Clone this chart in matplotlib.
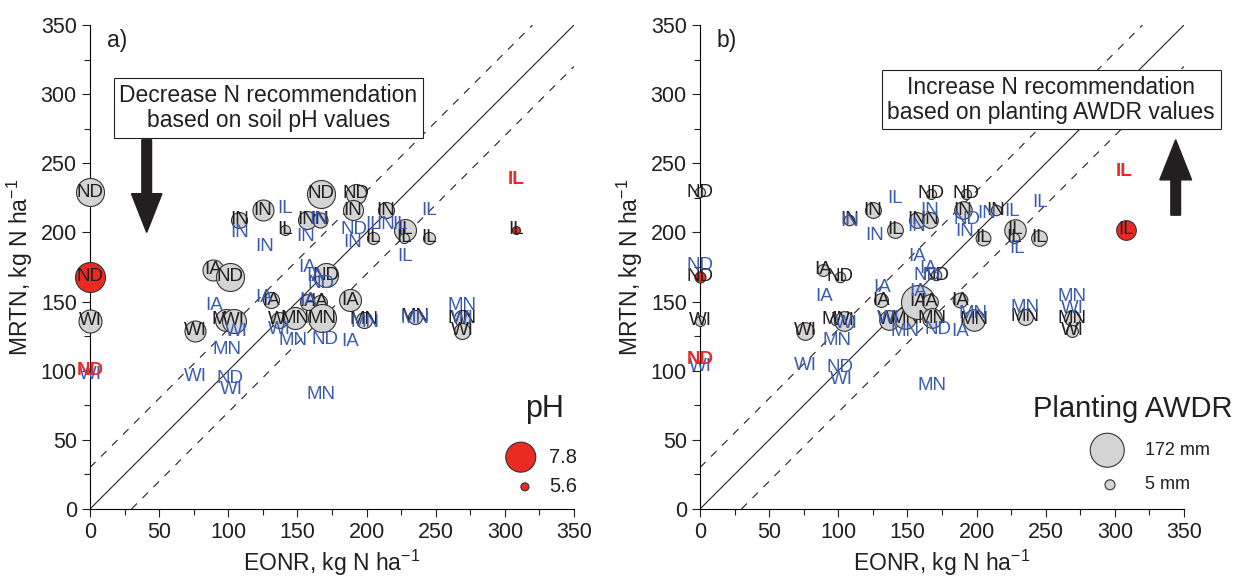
import matplotlib.pyplot as plt
import numpy as np

plt.rcParams['font.family'] = ['Liberation Sans', 'DejaVu Sans']
plt.rcParams['mathtext.default'] = 'regular'

# one entry per site: state, EONR, MRTN (kg N/ha), soil pH, planting AWDR (mm)
state = ["ND", "ND", "WI", "WI", "IA", "ND", "MN", "WI", "IN", "IN", "IL", "IA",
         "WI", "MN", "IN", "IN", "ND", "ND", "IA", "IA", "MN", "ND", "IA", "IN",
         "MN", "IL", "IN", "IL", "IL", "IL", "MN", "MN", "WI", "IL"]
eonr = [0, 0, 0, 76, 89, 101, 98, 104, 108, 125, 141, 131,
        137, 148, 157, 166, 167, 192, 158, 166, 168, 171, 188, 190,
        198, 205, 214, 228, 227, 245, 235, 269, 269, 308]
mrtn = [229, 168, 136, 129, 173, 168, 137, 136, 209, 216, 202, 151,
        137, 138, 209, 209, 228, 228, 150, 150, 138, 169, 151, 216,
        137, 196, 216, 202, 196, 196, 139, 138, 129, 202]
soil_ph = [7.6, 7.8, 7.1, 6.9, 6.9, 7.6, 7.0, 7.2, 6.4, 6.9, 5.8, 6.4,
           6.4, 7.0, 6.6, 6.3, 7.6, 6.8, 6.4, 6.2, 7.6, 7.2, 7.0, 6.8,
           6.4, 6.0, 6.4, 7.0, 5.8, 6.0, 6.2, 6.4, 6.4, 5.6]
awdr = [5, 12, 5, 58, 18, 8, 10, 72, 8, 45, 45, 32,
        72, 85, 45, 45, 5, 5, 172, 45, 72, 8, 38, 58,
        85, 38, 8, 85, 8, 45, 45, 45, 18, 72]
highlight = [1, 33]

# adjusted recommendations (blue labels)
ph_lab = ["WI", "IA", "MN", "WI", "WI", "ND", "WI", "IN", "IN", "IL", "IN", "IN",
          "ND", "IN", "IL", "IN", "IL", "IL", "IL", "IA", "IA", "ND", "IA", "IA",
          "MN", "WI", "ND", "IA", "MN", "MN", "MN", "WI", "MN"]
ph_x = [0, 90, 99, 106, 76, 101, 102, 108, 126, 141, 156, 165,
        191, 190, 205, 214, 224, 245, 228, 157, 163, 167, 126, 158,
        147, 137, 170, 188, 199, 235, 269, 269, 167]
ph_y = [97, 147.5, 115.5, 128, 96, 94.5, 86.5, 200, 190, 217.5, 197, 209,
        202, 193, 205.5, 205.5, 205.5, 216, 182.5, 175, 168, 163, 153, 151,
        122, 129.5, 122.5, 121, 135, 138, 147.5, 138, 82.5]

aw_lab = ["ND", "WI", "IL", "IN", "IN", "IA", "IA", "WI", "MN", "WI", "ND", "WI",
          "IA", "IA", "ND", "IA", "WI", "MN", "ND", "IA", "MN", "MN", "MN", "WI",
          "MN", "IN", "IN", "ND", "IN", "IN", "IL", "IL", "IL"]
aw_x = [0, 0, 141, 108.5, 126.5, 132, 90, 106, 99, 76, 101, 102,
        157, 165, 164, 158, 136, 148, 172, 188, 197.5, 235, 269, 269,
        167.5, 166, 157, 193, 191.5, 207, 225.5, 246, 229]
aw_y = [176, 103, 224.5, 208, 197.5, 160, 153.5, 134.5, 122, 104, 102.5, 93.5,
        182.5, 174, 169, 157, 138, 128, 129.5, 128, 141.5, 146, 154, 145,
        89.5, 216, 204, 209, 200.5, 214, 215, 222, 188.5]

red_lab = ["ND", "IL"]
red_ph_x = [0, 308]
red_ph_y = [100, 238]
red_aw_x = [0, 307]
red_aw_y = [108, 244]

GRAY = "#d4d4d4"
RED = "#ec2a24"
BLUE = "#3a5bb0"
INK = "#231f20"
LAB = 13.5


def radius(v, vmin, vmax, rmin, rmax):
    v = np.asarray(v, dtype=float)
    return rmin + (v - vmin) / (vmax - vmin) * (rmax - rmin)


def area(r_px):
    # radius in pixels (dpi 100) -> scatter area in pt^2
    return (2 * np.asarray(r_px) * 0.72) ** 2


fig = plt.figure(figsize=(12.5, 5.83), dpi=100)
ax_a = fig.add_axes([90 / 1250, 74 / 583, 484 / 1250, 484 / 583])
ax_b = fig.add_axes([700 / 1250, 74 / 583, 484 / 1250, 484 / 583])

r_a = radius(soil_ph, 5.6, 7.8, 4, 15)
r_b = radius(awdr, 5, 172, 5, 17)

for ax, rr, bl, bx, by, rx, ry in [(ax_a, r_a, ph_lab, ph_x, ph_y, red_ph_x, red_ph_y),
                                   (ax_b, r_b, aw_lab, aw_x, aw_y, red_aw_x, red_aw_y)]:
    ax.plot([0, 350], [0, 350], color=INK, lw=0.8)
    ax.plot([0, 320], [30, 350], color=INK, lw=0.8, ls=(0, (7, 7)))
    ax.plot([30, 350], [0, 320], color=INK, lw=0.8, ls=(0, (7, 7)))
    for i in range(len(state)):
        fc = RED if i in highlight else GRAY
        ax.scatter(eonr[i], mrtn[i], s=area(rr[i]), facecolor=fc, edgecolor="#333333",
                   linewidth=0.8, zorder=3 + i * 0.01, clip_on=False)
        ax.text(eonr[i], mrtn[i], state[i], ha="center", va="center", fontsize=LAB,
                color=INK, zorder=3.005 + i * 0.01)
    for lab, x, y in zip(bl, bx, by):
        ax.text(x, y, lab, ha="center", va="center", fontsize=LAB, color=BLUE, zorder=5)
    for lab, x, y in zip(red_lab, rx, ry):
        ax.text(x, y, lab, ha="center", va="center", fontsize=LAB, color=RED,
                fontweight="bold", zorder=5)

    ax.set_xlim(0, 350)
    ax.set_ylim(0, 350)
    ax.set_xticks(np.arange(0, 351, 50))
    ax.set_yticks(np.arange(0, 351, 50))
    ax.set_xticks(np.arange(0, 351, 25), minor=True)
    ax.set_yticks(np.arange(0, 351, 25), minor=True)
    ax.tick_params(labelsize=15.5, direction="out", length=6, width=0.8, colors=INK)
    ax.tick_params(which="minor", direction="out", length=4, width=0.8, colors=INK)
    for sp in ["top", "right"]:
        ax.spines[sp].set_visible(False)
    for sp in ["left", "bottom"]:
        ax.spines[sp].set_linewidth(0.8)
    ax.set_xlabel("EONR, kg N ha$^{-1}$", fontsize=16.5, color=INK, labelpad=3)
    ax.set_ylabel("MRTN, kg N ha$^{-1}$", fontsize=16.5, color=INK, labelpad=4)

# panel a annotations
ax_a.text(12, 339, "a)", fontsize=16.5, va="center", color=INK)
ax_a.text(129, 290, "Decrease N recommendation\nbased on soil pH values", fontsize=16.5,
          ha="center", va="center", linespacing=1.1, color=INK,
          bbox=dict(boxstyle="square,pad=0.25", fc="white", ec=INK, lw=0.8))
ax_a.arrow(41, 267, 0, -67, width=7, head_width=22, head_length=28,
           length_includes_head=True, color=INK, zorder=4)
ax_a.text(329, 72, "pH", fontsize=22, ha="center", va="center", color=INK)
ax_a.scatter([311.5, 314.5], [37.5, 16], s=area(radius([7.8, 5.6], 5.6, 7.8, 4, 15)),
             facecolor=RED, edgecolor="#333333", linewidth=0.8, clip_on=False, zorder=4)
ax_a.text(332, 37.5, "7.8", fontsize=14.5, va="center", color=INK)
ax_a.text(332, 16, "5.6", fontsize=14.5, va="center", color=INK)

# panel b annotations
ax_b.text(12, 339, "b)", fontsize=16.5, va="center", color=INK)
ax_b.text(254, 296, "Increase N recommendation\nbased on planting AWDR values", fontsize=16.5,
          ha="center", va="center", linespacing=1.1, color=INK, clip_on=False,
          bbox=dict(boxstyle="square,pad=0.25", fc="white", ec=INK, lw=0.8))
ax_b.arrow(344, 212.5, 0, 54.5, width=7, head_width=23, head_length=29,
           length_includes_head=True, color=INK, zorder=4, clip_on=False)
ax_b.text(385, 72, "Planting AWDR", fontsize=21, ha="right", va="center", color=INK,
          clip_on=False)
ax_b.scatter([294.5, 296.5], [42.5, 17.5], s=area(radius([172, 5], 5, 172, 5, 17)),
             facecolor=GRAY, edgecolor="#333333", linewidth=0.8, clip_on=False, zorder=4)
ax_b.text(322, 42.5, "172 mm", fontsize=13, va="center", color=INK)
ax_b.text(322, 17.5, "5 mm", fontsize=13, va="center", color=INK)

fig.savefig("out.png", dpi=100)
